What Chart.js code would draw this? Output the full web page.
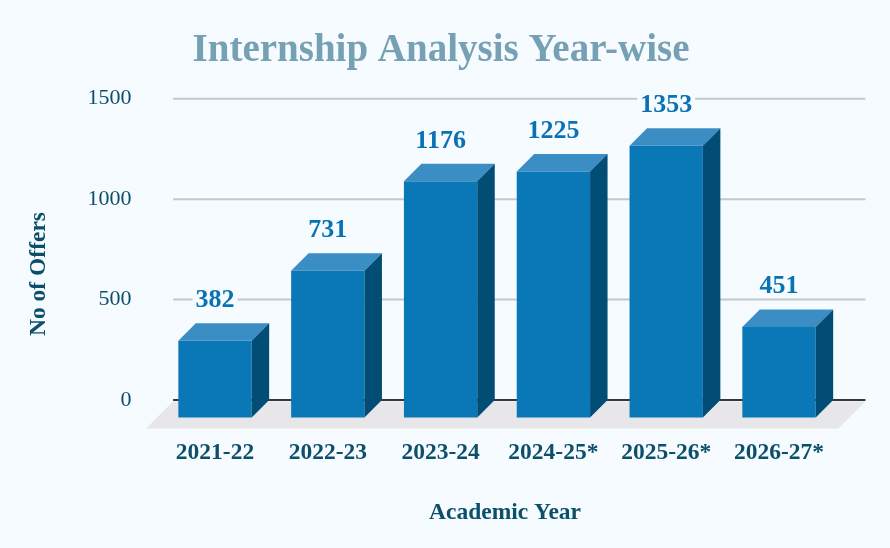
<!DOCTYPE html>
<html><head><meta charset="utf-8">
<script src="https://cdn.jsdelivr.net/npm/chart.js@4.4.1/dist/chart.umd.min.js"></script>
<style>html,body{margin:0;padding:0;background:#f5fbfe;} canvas{display:block;}</style>
</head><body>
<canvas id="c" width="890" height="548"></canvas>
<script>
const categories = ['2021-22', '2022-23', '2023-24', '2024-25*', '2025-26*', '2026-27*'];
const offers = [382, 731, 1176, 1225, 1353, 451];
const yTickValues = [0, 500, 1000, 1500];
const chartTitle = 'Internship Analysis Year-wise';
const xAxisTitle = 'Academic Year';
const yAxisTitle = 'No of Offers';

const BG = '#f5fbfe';
const SERIF = "'Liberation Serif', 'Times New Roman', serif";
const DARK = '#0d4f6b';
const DEPTH = 17.5;
const FLOOR_DEPTH = 27;

const bar3d = {
  id: 'bar3d',
  beforeDraw(chart) {
    const ctx = chart.ctx;
    ctx.save();
    ctx.fillStyle = BG;
    ctx.fillRect(0, 0, chart.width, chart.height);
    ctx.restore();
  },
  afterDatasetsDraw(chart) {
    const { ctx, chartArea: ca, scales: { y } } = chart;
    const meta = chart.getDatasetMeta(0);
    const gl = ca.left + 14.5, gr = ca.right + 30;
    const fb = ca.bottom + 1.5;
    ctx.save();
    // floor
    ctx.fillStyle = '#e7e7e9';
    ctx.beginPath();
    ctx.moveTo(gl, fb);
    ctx.lineTo(gr, fb);
    ctx.lineTo(gr - FLOOR_DEPTH, fb + FLOOR_DEPTH);
    ctx.lineTo(gl - FLOOR_DEPTH, fb + FLOOR_DEPTH);
    ctx.closePath();
    ctx.fill();
    // grid lines (back wall)
    y.ticks.forEach(t => {
      const py = y.getPixelForValue(t.value);
      ctx.strokeStyle = t.value === 0 ? '#363636' : '#c4c8cc';
      ctx.lineWidth = 2;
      ctx.beginPath();
      ctx.moveTo(gl, py);
      ctx.lineTo(gr, py);
      ctx.stroke();
    });
    // bars
    meta.data.forEach(el => {
      const p = el.getProps(['x', 'y', 'base', 'width'], true);
      const x0 = p.x - p.width / 2, x1 = p.x + p.width / 2;
      const yt = p.y + DEPTH, yb = p.base + DEPTH;
      // front
      ctx.fillStyle = '#0a77b7';
      ctx.fillRect(x0, yt, x1 - x0, yb - yt);
      // top
      ctx.fillStyle = '#3a8ec4';
      ctx.beginPath();
      ctx.moveTo(x0, yt); ctx.lineTo(x1, yt);
      ctx.lineTo(x1 + DEPTH, yt - DEPTH); ctx.lineTo(x0 + DEPTH, yt - DEPTH);
      ctx.closePath(); ctx.fill();
      // side
      ctx.fillStyle = '#024d76';
      ctx.beginPath();
      ctx.moveTo(x1, yt); ctx.lineTo(x1 + DEPTH, yt - DEPTH);
      ctx.lineTo(x1 + DEPTH, p.base); ctx.lineTo(x1, yb);
      ctx.closePath(); ctx.fill();
    });
    // value labels
    ctx.font = 'bold 26px ' + SERIF;
    ctx.textAlign = 'center';
    ctx.textBaseline = 'alphabetic';
    meta.data.forEach((el, i) => {
      const p = el.getProps(['x', 'y'], true);
      const txt = String(offers[i]);
      const w = ctx.measureText(txt).width;
      const by = p.y - 16;
      ctx.fillStyle = BG;
      ctx.fillRect(p.x - w / 2 - 3, by - 20, w + 6, 24);
      ctx.fillStyle = '#0a72b4';
      ctx.fillText(txt, p.x, by);
    });
    ctx.restore();
  },
  afterDraw(chart) {
    const ctx = chart.ctx;
    ctx.save();
    ctx.textAlign = 'center';
    ctx.textBaseline = 'alphabetic';
    ctx.fillStyle = '#76a1b4';
    ctx.font = 'bold 39px ' + SERIF;
    ctx.fillText(chartTitle, 441, 61);
    ctx.fillStyle = DARK;
    ctx.font = 'bold 23.5px ' + SERIF;
    ctx.fillText(xAxisTitle, 505, 519);
    ctx.translate(45, 274);
    ctx.rotate(-Math.PI / 2);
    ctx.font = 'bold 23.5px ' + SERIF;
    ctx.fillText(yAxisTitle, 0, 0);
    ctx.restore();
  }
};

new Chart(document.getElementById('c'), {
  type: 'bar',
  data: {
    labels: categories,
    datasets: [{
      data: offers,
      backgroundColor: 'rgba(0,0,0,0)',
      borderWidth: 0,
      barPercentage: 0.65,
      categoryPercentage: 1
    }]
  },
  options: {
    responsive: false,
    animation: false,
    devicePixelRatio: 1,
    layout: { padding: { left: 0, right: 54.6, top: 98.7, bottom: 0 } },
    plugins: {
      legend: { display: false },
      tooltip: { enabled: false },
      title: { display: false }
    },
    scales: {
      x: {
        grid: { display: false, drawTicks: false },
        border: { display: false },
        ticks: { color: DARK, font: { family: SERIF, size: 23.5, weight: 'bold' }, padding: 39, maxRotation: 0 },
        afterFit(s) { s.height = 148; }
      },
      y: {
        min: 0, max: 1500,
        grid: { display: false, drawTicks: false },
        border: { display: false },
        ticks: { color: DARK, font: { family: SERIF, size: 22 }, padding: 27, callback: v => String(v) },
        afterBuildTicks(s) { s.ticks = yTickValues.map(v => ({ value: v })); },
        afterFit(s) { s.width = 158.6; }
      }
    }
  },
  plugins: [bar3d]
});
</script>
</body></html>
